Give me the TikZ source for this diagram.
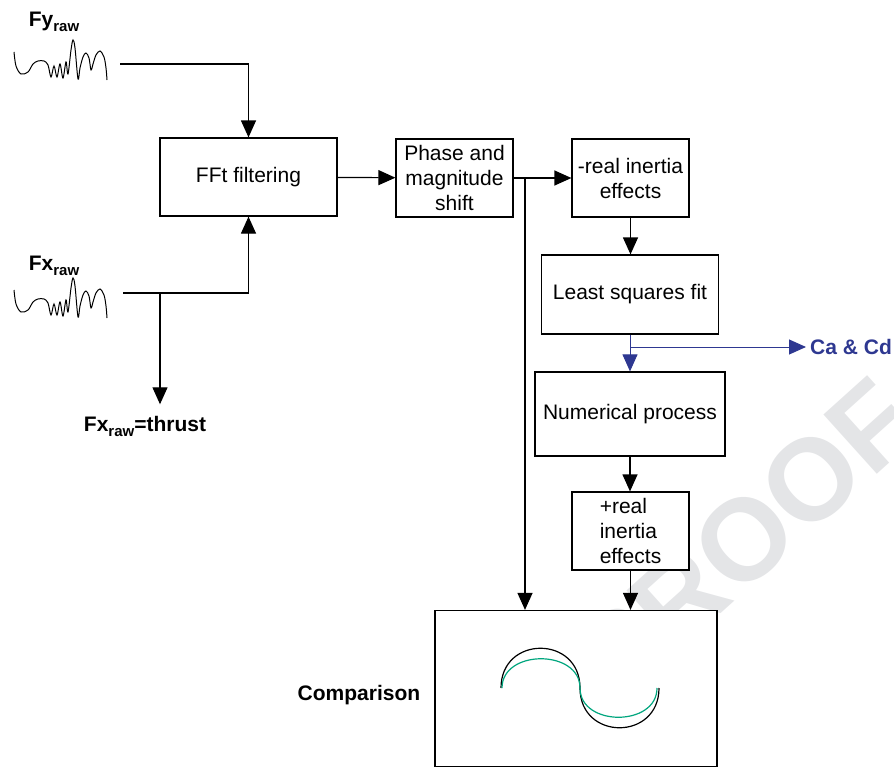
\documentclass[tikz,border=0pt]{standalone}
\usepackage{fontspec}
\setmainfont{Liberation Sans}
\usepackage{xcolor}
\usetikzlibrary{arrows.meta,positioning}

\definecolor{cdblue}{RGB}{46,56,145}
\definecolor{fitgreen}{RGB}{0,166,126}
\definecolor{wmgray}{RGB}{228,229,231}
\newcommand{\rawsub}{\raisebox{-5pt}{\fontsize{15}{15}\selectfont raw}}

\tikzset{
  block/.style={draw, line width=1.2pt, fill=white, inner sep=2pt, align=center,
    font=\fontsize{21}{25}\selectfont},
  flow/.style={line width=1.2pt, -{Triangle[length=17pt,width=15pt]}},
  lbl/.style={font=\fontsize{21}{25}\selectfont\bfseries},
}

\begin{document}
\begin{tikzpicture}[x=1pt,y=-1pt]
  \useasboundingbox (0,0) rectangle (894,768);
  % watermark
  \node[rotate=42, text=wmgray, font=\fontsize{116}{116}\selectfont\bfseries] (stamp) at (744,540) {PROOF};

  % raw signals
  \foreach \dy in {0,238}{
    \draw[line width=1pt, shift={(1,\dy)}] plot[smooth, tension=0.55] coordinates {
      (13,52) (15,66) (20,74) (27,72) (32,64) (37,61) (43,61) (47,65) (50,77) (53,66)
      (56,77) (59,64) (62,78) (65,62) (67,74) (70,50) (72,40) (74,48) (77,79) (79,68)
      (82,57) (85,53) (88,58) (90,70) (92,64) (95,55) (99,51) (103,57) (105,68) (106,80)};
  }
  \node[lbl] (fylab) at (54,22) {Fy\rawsub};
  \node[lbl] (fxlab) at (54,266) {Fx\rawsub};
  \node[lbl] (thrust) at (145,426) {Fx\rawsub=thrust};

  % blocks
  \node[block, minimum width=177pt, minimum height=78pt] (fft) at (248.5,177) {FFt filtering};
  \node[block, minimum width=117pt, minimum height=78pt] (phase) at (454.5,178) {Phase and\\magnitude\\shift};
  \node[block, minimum width=117pt, minimum height=78pt] (realminus) at (630.5,178) {-real inertia\\effects};
  \node[block, minimum width=177pt, minimum height=79pt] (lsf) at (630,294.5) {Least squares fit};
  \node[block, minimum width=190pt, minimum height=84pt] (num) at (630,414) {Numerical process};
  \node[block, minimum width=117pt, minimum height=78pt, align=left] (realplus) at (630.5,531) {+real\\inertia\\effects};
  \node[block, minimum width=282pt, minimum height=156pt] (comp) at (576,688.5) {};
  \node[lbl] (complab) at (359,695) {Comparison};
  \node[lbl, text=cdblue, anchor=west, inner sep=4pt] (cacd) at (806,347) {Ca \& Cd};

  % curves
  \draw[line width=1.2pt] (501,688) .. controls (501,635) and (580,635) .. (580,688)
    .. controls (580,741) and (659,741) .. (659,688);
  \draw[fitgreen, line width=1.2pt] (502,688) .. controls (502,649) and (580,649) .. (580,688)
    .. controls (580,727) and (657,727) .. (657,688);

  % connectors
  \coordinate (fyend) at (120,64);
  \coordinate (fxend) at (123,293);
  \coordinate (fxsplit) at (160,293);
  \coordinate (phsplit) at (525,178);
  \coordinate (lsfsplit) at (630,347);
  \draw[flow] (fyend) -| (fft.north);
  \draw[flow] (fxend) -| (fft.south);
  \draw[flow, shorten >=8pt] (fxsplit) -- (fxsplit |- thrust.north);
  \draw[flow] (fft) -- (phase);
  \draw[flow] (phase) -- (realminus);
  \draw[flow] (phsplit) -- (phsplit |- comp.north);
  \draw[flow] (realminus) -- (realminus |- lsf.north);
  \draw[flow, cdblue, line width=1pt] (lsf) -- (num);
  \draw[flow, cdblue, line width=1pt] (lsfsplit) -- (cacd);
  \draw[flow] (num) -- (num |- realplus.north);
  \draw[flow] (realplus) -- (realplus |- comp.north);
\end{tikzpicture}
\end{document}
